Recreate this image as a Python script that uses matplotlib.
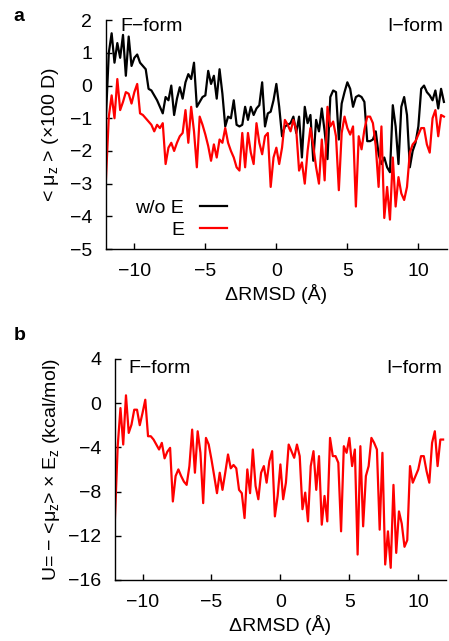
import numpy as np
import matplotlib
matplotlib.use("Agg")
import matplotlib.pyplot as plt

plt.rcParams['font.family'] = ['Liberation Sans', 'DejaVu Sans']
plt.rcParams['mathtext.fontset'] = 'custom'
plt.rcParams['mathtext.rm'] = 'Liberation Sans'
plt.rcParams['mathtext.it'] = 'Liberation Sans:italic'

# dRMSD grid (A)
drmsd = np.round(-12 + 0.2 * np.arange(120), 1)

# <mu_z> (x100 D), no field
mu_noE = [-0.95, 1.0, 1.6, 0.7, 1.3, 0.85, 1.55, 0.3, 1.5, 0.6,
          0.85, 0.95, 0.7, 0.6, 0.5, -0.1, -0.15, -0.3, -0.45, -0.65,
          -0.85, -0.35, -0.45, 0.0, -0.9, -0.4, -0.05, -0.4, 0.1, 0.35,
          0.2, 0.7, -0.65, -0.5, -0.35, -0.3, 0.45, 0.05, 0.3, -0.4,
          0.5, -0.25, -1.25, -0.95, -1.0, -0.45, -1.2, -1.25, -1.2, -0.65,
          -1.05, -0.65, -0.9, -0.7, -0.6, 0.1, -1.25, -0.85, -0.8, -0.45,
          0.05, -0.65, -1.55, -1.25, -1.2, -1.15, -0.95, -1.45, -0.95, -2.2,
          -0.65, -1.15, -0.9, -2.3, -1.05, -1.4, -0.7, -1.4, -2.25, -0.35,
          -0.15, -0.2, -1.65, -0.55, -0.2, 0.1, -0.1, -0.65, -0.35, -0.3,
          -0.35, -0.5, -1.7, -1.7, -1.65, -1.4, -2.1, -2.4, -2.2, -2.5,
          -2.65, -0.6, -1.25, -2.4, -0.65, -0.35, -0.9, -2.5, -2.0, -1.75,
          -1.25, -0.1, 0.0, -0.2, -0.3, -0.45, -0.15, -0.7, -0.1, -0.5]

# <mu_z> (x100 D), with field
mu_E = [-2.85, -0.95, -0.3, -1.0, 0.2, -0.75, -0.5, -0.2, -0.25, -0.55,
        -0.2, 0.05, -0.85, -0.9, -1.0, -1.1, -1.2, -1.4, -1.2, -1.3,
        -1.15, -2.4, -1.9, -1.75, -2.0, -1.75, -1.55, -1.45, -0.75, -1.75,
        -0.65, -1.4, -2.5, -0.95, -1.2, -1.5, -1.85, -2.3, -1.8, -2.2,
        -1.65, -1.75, -1.3, -1.75, -2.0, -2.2, -2.5, -2.6, -1.45, -2.5,
        -1.45, -2.05, -2.4, -1.15, -1.75, -2.1, -1.55, -1.45, -3.1, -2.2,
        -1.9, -2.4, -1.9, -1.05, -1.2, -1.4, -1.05, -1.35, -2.6, -2.35,
        -3.0, -2.0, -1.3, -1.85, -2.5, -3.0, -1.65, -2.9, -0.65, -1.25,
        -1.1, -1.55, -3.2, -1.45, -0.95, -1.3, -1.5, -1.25, -3.7, -1.55,
        -1.95, -1.35, -0.95, -0.95, -1.15, -1.85, -3.1, -1.25, -4.05, -3.1,
        -4.1, -2.2, -3.7, -2.8, -3.3, -3.5, -3.1, -2.05, -1.8, -1.7,
        -1.5, -1.3, -1.3, -1.8, -2.05, -1.0, -0.75, -1.55, -0.9, -0.95]

# U = -<mu_z> x E_z (kcal/mol)
energy = [-10.4, -3.9, -0.45, -3.75, 0.7, -2.7, -1.95, -0.6, -0.6, -2.0,
          -0.9, 0.3, -3.0, -3.0, -3.3, -3.75, -4.2, -3.6, -5.0, -4.4,
          -4.05, -8.9, -6.6, -6.0, -6.6, -7.1, -7.4, -5.7, -2.4, -6.3,
          -2.55, -4.5, -9.05, -3.15, -3.75, -5.1, -6.6, -8.15, -6.3, -7.85,
          -6.3, -4.65, -5.9, -5.6, -5.9, -7.85, -8.15, -10.4, -6.0, -8.15,
          -4.2, -7.5, -8.7, -6.3, -5.7, -7.2, -5.25, -4.35, -10.25, -8.4,
          -5.55, -8.7, -7.2, -3.75, -4.35, -4.95, -3.75, -4.8, -9.6, -8.1,
          -10.7, -5.7, -4.35, -7.85, -4.8, -11.0, -8.4, -10.7, -3.15, -4.8,
          -4.8, -5.4, -11.6, -3.9, -4.5, -3.15, -5.7, -4.2, -13.7, -3.9,
          -11.15, -6.6, -5.7, -3.15, -3.6, -4.2, -11.45, -4.5, -14.6, -11.6,
          -14.9, -7.4, -13.55, -9.8, -10.9, -13.0, -12.4, -5.7, -7.2, -6.6,
          -6.0, -4.8, -4.8, -6.15, -7.2, -3.6, -2.55, -5.7, -3.3, -3.3]

fs = 14

fig = plt.figure(figsize=(4.49, 6.41), dpi=100)
ax1 = fig.add_axes([0.236, 0.6115, 0.759, 0.357])
ax2 = fig.add_axes([0.256, 0.0952, 0.737, 0.345])

ax1.plot(drmsd, mu_noE, color='black', lw=1.6, label='w/o E')
ax1.plot(drmsd, mu_E, color='#ff0000', lw=1.6, label='E')
ax2.plot(drmsd, energy, color='#ff0000', lw=1.6)

for ax in (ax1, ax2):
    ax.set_xlim(-12, 12)
    ax.set_xticks([-10, -5, 0, 5, 10])
    ax.spines['top'].set_visible(False)
    ax.spines['right'].set_visible(False)
    ax.spines['left'].set_linewidth(1.0)
    ax.spines['bottom'].set_linewidth(1.0)
    ax.tick_params(direction='in', length=4, width=1.0, labelsize=fs, pad=10)
    ax.set_xlabel('ΔRMSD (Å)', fontsize=fs, labelpad=3)

ax1.set_ylim(-5, 2)
ax1.set_yticks(range(-5, 3))
ax1.set_ylabel('< μ$_\\mathregular{z}$ > (×100 D)', fontsize=fs, labelpad=6)
ax1.text(0.041, 1.01, 'F−form', transform=ax1.transAxes, fontsize=fs, va='top', ha='left')
ax1.text(0.988, 1.01, 'I−form', transform=ax1.transAxes, fontsize=fs, va='top', ha='right')
ax1.legend(markerfirst=False, frameon=False, loc='center right',
           bbox_to_anchor=(0.355, 0.131), borderpad=0, borderaxespad=0,
           handlelength=1.4, handletextpad=0.8, labelspacing=0.2, fontsize=fs)

ax2.set_ylim(-16, 4)
ax2.set_yticks(range(-16, 5, 4))
ax2.set_ylabel('U= − <μ$_\\mathregular{z}$> × E$_\\mathregular{z}$ (kcal/mol)', fontsize=fs, labelpad=4)
ax2.text(0.042, 0.995, 'F−form', transform=ax2.transAxes, fontsize=fs, va='top', ha='left')
ax2.text(0.99, 0.995, 'I−form', transform=ax2.transAxes, fontsize=fs, va='top', ha='right')

fig.text(0.03, 0.988, 'a', fontsize=fs, fontweight='bold', va='top', ha='left')
fig.text(0.03, 0.49, 'b', fontsize=fs, fontweight='bold', va='top', ha='left')

fig.savefig('out.png', dpi=100)
